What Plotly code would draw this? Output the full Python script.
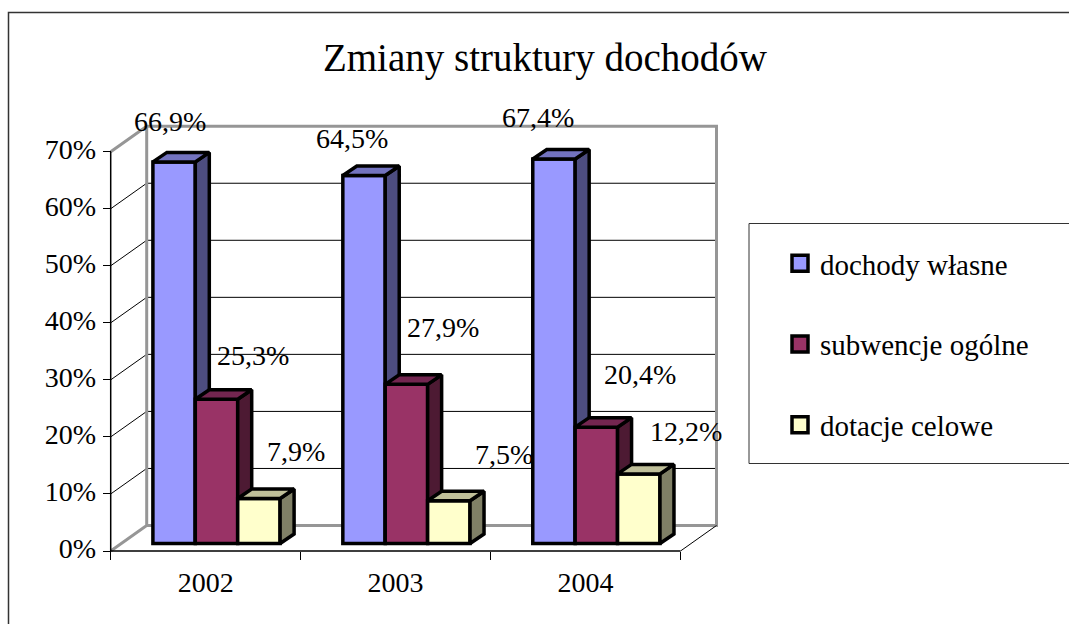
import plotly.graph_objects as go

categories = ["2002", "2003", "2004"]
series_names = ["dochody własne", "subwencje ogólne", "dotacje celowe"]
dochody = [66.9, 64.5, 67.4]
subwencje = [25.3, 27.9, 20.4]
dotacje = [7.9, 7.5, 12.2]
y_ticks = [0, 10, 20, 30, 40, 50, 60, 70]

W, H = 1069, 624
X0, X1 = 110.7, 680.5
Y0, Y70 = 551.0, 151.7
UX = (X1 - X0) / 3
UY = (Y0 - Y70) / 70
# the plot area is larger than the front axes, so that the 3-D walls are not clipped
PL, PR, PT, PB = 100.0, 730.0, 110.0, 565.0

WALL_DX, WALL_DY = 36 / UX, 25.5 / UY
BAR_DX, BAR_DY = 14 / UX, 9.5 / UY
SHIFT_X, SHIFT_Y = 42.2 / UX, 7.5 / UY
BAR_W = 42.4 / UX

front = ["#9999FF", "#993366", "#FFFFCC"]
side = ["#4D4D80", "#4D1A33", "#808066"]
top = ["#7373BF", "#732650", "#BFBF99"]
GRAY = "#969696"
FONT = "Liberation Serif"
EDGE = 3.5

# (xshift, yshift) of each data label from the front-top centre of its bar
label_shift = [
    [(-4, 40), (-12, 37), (-16, 42)],
    [(36, 44), (37, 57), (44, 53)],
    [(37, 47), (55, 46), (47, 42)],
]
all_values = [dochody, subwencje, dotacje]

fig = go.Figure()


def wall(xs, ys, color, width):
    fig.add_trace(go.Scatter(x=xs, y=ys, mode="lines", showlegend=False,
                             hoverinfo="skip", line=dict(color=color, width=width)))


for t in y_ticks[1:-1]:
    wall([0, WALL_DX, 3 + WALL_DX], [t, t + WALL_DY, t + WALL_DY], "black", 1)
wall([0, WALL_DX, WALL_DX, 3 + WALL_DX, 3 + WALL_DX, WALL_DX, WALL_DX, 0],
     [70, 70 + WALL_DY, 0 + WALL_DY, 0 + WALL_DY, 70 + WALL_DY, 70 + WALL_DY, WALL_DY, 0], GRAY, 3)
wall([3, 3 + WALL_DX], [0, WALL_DY], "black", 1)
wall([0, 0, 3], [70, 0, 0], "black", 1.5)

annotations = []
for s, values in enumerate(all_values):
    n = s + 2
    xa, ya = f"x{n}", f"y{n}"
    lefts = [i + SHIFT_X + s * BAR_W for i in range(len(categories))]
    tops = [v + SHIFT_Y for v in values]
    fig.add_trace(go.Bar(x=lefts, y=values, base=SHIFT_Y, width=BAR_W, offset=0, xaxis=xa, yaxis=ya,
                         showlegend=False, hoverinfo="skip",
                         marker=dict(color=front[s], line=dict(color="black", width=EDGE))))
    sx, sy, tx, ty = [], [], [], []
    for l, t in zip(lefts, tops):
        r = l + BAR_W
        sx += [r, r + BAR_DX, r + BAR_DX, r, r, None]
        sy += [SHIFT_Y, SHIFT_Y + BAR_DY, t + BAR_DY, t, SHIFT_Y, None]
        tx += [l, l + BAR_DX, r + BAR_DX, r, l, None]
        ty += [t, t + BAR_DY, t + BAR_DY, t, t, None]
    for px, py, col in ((sx, sy, side[s]), (tx, ty, top[s])):
        fig.add_trace(go.Scatter(x=px, y=py, xaxis=xa, yaxis=ya, mode="lines", fill="toself",
                                 fillcolor=col, showlegend=False, hoverinfo="skip",
                                 line=dict(color="black", width=EDGE)))
    for i, v in enumerate(values):
        annotations.append(dict(x=lefts[i] + BAR_W / 2, y=tops[i], xref="x4", yref="y4",
                                text=f"{v:.1f}%".replace(".", ","), showarrow=False,
                                xshift=label_shift[s][i][0], yshift=label_shift[s][i][1],
                                xanchor="center", yanchor="middle",
                                font=dict(family=FONT, size=28, color="black")))
    fig.add_trace(go.Scatter(x=[None], y=[None], xaxis=xa, yaxis=ya, mode="markers", name=series_names[s],
                             legendgroup=series_names[s], hoverinfo="skip",
                             marker=dict(symbol="square", size=17, color=front[s],
                                         line=dict(color="black", width=3.5))))

x_range = [(PL - X0) / UX, (PR - X0) / UX]
y_range = [(Y0 - PB) / UY, (Y0 - PT) / UY]
axis_common = dict(range=x_range, domain=[PL / W, PR / W], fixedrange=True, automargin=False)
yaxis_common = dict(range=y_range, domain=[1 - PB / H, 1 - PT / H], fixedrange=True, automargin=False)

layout = dict(
    width=W, height=H, margin=dict(l=0, r=0, t=0, b=0), paper_bgcolor="white", plot_bgcolor="rgba(0,0,0,0)",
    barmode="overlay",
    title=dict(text="Zmiany struktury dochodów", x=545 / W, y=1 - 57 / H, xanchor="center", yanchor="middle",
               automargin=False, font=dict(family=FONT, size=39, color="black")),
    xaxis=dict(**axis_common, anchor="free", position=1 - Y0 / H,
               tickmode="array", tickvals=[0.5, 1.5, 2.5], ticktext=categories, ticks="",
               ticklabelstandoff=12,
               showline=False, showgrid=False, zeroline=False,
               tickfont=dict(family=FONT, size=28, color="black"),
               minor=dict(tickmode="array", tickvals=[0, 1, 2, 3], ticks="outside", ticklen=8, tickcolor="black",
                          tickwidth=1, showgrid=False)),
    yaxis=dict(**yaxis_common, anchor="free", position=X0 / W,
               tickmode="array", tickvals=y_ticks, ticktext=[f"{t}%" for t in y_ticks],
               ticks="outside", ticklen=8, tickcolor="black", tickwidth=1, ticklabelshift=-3, ticklabelstandoff=1,
               showline=False, showgrid=False, zeroline=False,
               tickfont=dict(family=FONT, size=28, color="black")),
    legend=dict(x=780 / W, y=1 - 238 / H, xanchor="left", yanchor="top", tracegroupgap=40,
                bgcolor="rgba(0,0,0,0)", borderwidth=0, font=dict(family=FONT, size=29, color="black")),
    shapes=[
        dict(type="rect", xref="paper", yref="paper", x0=8.5 / W, x1=1.2, y0=-0.2, y1=1 - 12.5 / H,
             line=dict(color="#333333", width=1.5), layer="below"),
        dict(type="rect", xref="paper", yref="paper", x0=749 / W, x1=1.2, y0=1 - 463.5 / H, y1=1 - 223.5 / H,
             line=dict(color="#333333", width=1), layer="below"),
    ],
    annotations=annotations,
)
for n in (2, 3, 4):
    layout[f"xaxis{n}"] = dict(**axis_common, overlaying="x", visible=False, anchor=f"y{n}")
    layout[f"yaxis{n}"] = dict(**yaxis_common, overlaying="y", visible=False, anchor=f"x{n}")
fig.update_layout(**layout)

fig.write_html("out.html", config={"displayModeBar": False},
               post_script="document.body.style.margin='0';document.body.style.overflow='hidden';")
